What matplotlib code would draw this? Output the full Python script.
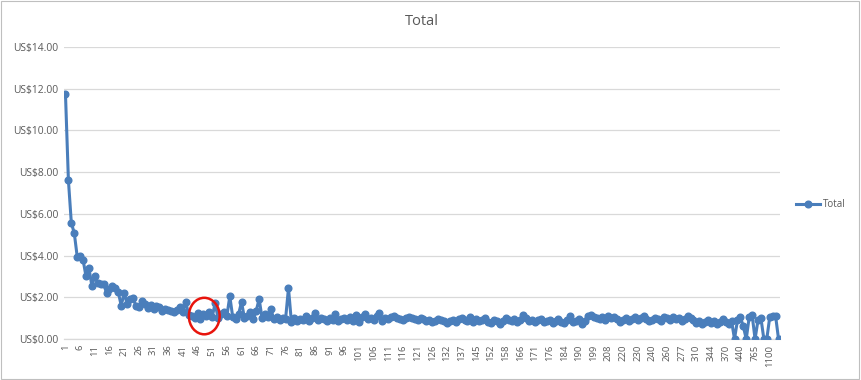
import matplotlib
matplotlib.use("Agg")
import matplotlib.pyplot as plt
from matplotlib.patches import Ellipse, Rectangle
from matplotlib.ticker import FuncFormatter, MultipleLocator

# ---- data ----
values = [
    11.75, 7.62, 5.56, 5.08, 3.95, 4.0, 3.8, 3.0, 3.4, 2.55,
    3.0, 2.7, 2.65, 2.65, 2.2, 2.4, 2.55, 2.45, 2.25, 1.6,
    2.2, 1.7, 1.9, 1.95, 1.6, 1.55, 1.8, 1.7, 1.5, 1.65,
    1.45, 1.6, 1.55, 1.35, 1.45, 1.4, 1.35, 1.3, 1.4, 1.55,
    1.3, 1.77, 1.15, 1.1, 1.0, 1.25, 0.95, 1.2, 1.1, 1.3,
    1.05, 1.72, 1.0, 1.2, 1.3, 1.1, 2.05, 1.05, 0.95, 1.2,
    1.77, 1.0, 1.1, 1.3, 0.95, 1.35, 1.92, 1.0, 1.2, 1.05,
    1.44, 0.95, 1.05, 0.9, 1.0, 0.95, 2.44, 0.8, 1.0, 0.85,
    0.95, 0.9, 1.1, 0.85, 1.0, 1.25, 0.9, 1.0, 0.95, 0.85,
    1.0, 0.9, 1.2, 0.85, 0.95, 1.0, 0.9, 1.05, 0.85, 1.15,
    0.8, 1.05, 1.2, 0.95, 1.0, 0.9, 1.1, 1.25, 0.85, 1.0,
    0.95, 1.05, 1.1, 1.0, 0.95, 0.9, 1.0, 1.05, 1.0, 0.95,
    0.9, 1.0, 0.95, 0.85, 0.9, 0.8, 0.85, 0.95, 0.9, 0.85,
    0.75, 0.85, 0.9, 0.8, 0.95, 1.0, 0.9, 0.85, 1.05, 0.8,
    0.95, 0.85, 0.9, 1.0, 0.8, 0.75, 0.9, 0.85, 0.7, 0.85,
    1.0, 0.9, 0.85, 0.95, 0.8, 0.9, 1.15, 1.0, 0.85, 0.9,
    0.8, 0.9, 0.95, 0.8, 0.85, 0.9, 0.75, 0.85, 0.95, 0.8,
    0.75, 0.9, 1.1, 0.8, 0.85, 0.95, 0.7, 0.85, 1.1, 1.15,
    1.05, 1.0, 0.95, 1.05, 0.9, 1.1, 1.0, 1.05, 0.95, 0.8,
    0.9, 1.0, 0.85, 0.95, 1.05, 0.9, 1.0, 1.1, 0.95, 0.85,
    0.9, 1.0, 0.95, 0.85, 1.05, 1.0, 0.9, 1.05, 0.95, 1.0,
    0.85, 0.95, 1.1, 1.0, 0.9, 0.75, 0.85, 0.7, 0.8, 0.9,
    0.75, 0.85, 0.7, 0.8, 0.95, 0.8, 0.7, 0.85, 0.0, 0.9,
    1.05, 0.6, 0.0, 1.05, 1.15, 0.0, 0.9, 1.0, 0.0, 0.0,
    1.05, 1.1, 1.1, 0.0,
]
tick_labels = [
    "1", "6", "11", "16", "21", "26", "31", "36", "41", "46", "51", "56", "61",
    "66", "71", "76", "81", "86", "91", "96", "101", "106", "111", "116", "121",
    "126", "132", "137", "145", "152", "158", "166", "171", "176", "184", "190",
    "199", "208", "220", "230", "240", "260", "277", "310", "344", "370", "440",
    "765", "1100",
]
series_name = "Total"
tick_step = 5

# ---- figure ----
color = "#4a7ebb"
text_color = "#595959"
plt.rcParams["font.family"] = ["Open Sans", "DejaVu Sans"]

fig = plt.figure(figsize=(8.61, 3.80), dpi=100)
ax = fig.add_axes([64 / 861, 1 - 339 / 380, (780 - 64) / 861, (339 - 47) / 380])

x = list(range(len(values)))
ax.plot(x, values, color=color, lw=2.2, marker="o", markersize=4.8,
        markerfacecolor=color, markeredgecolor=color, label=series_name,
        solid_joinstyle="round", zorder=3)

ax.set_ylim(0, 14)
ax.set_xlim(-0.5, len(values) - 0.5)
ax.yaxis.set_major_locator(MultipleLocator(2))
ax.yaxis.set_major_formatter(FuncFormatter(lambda v, p: f"US${v:,.2f}"))
ax.grid(axis="y", color="#d9d9d9", lw=0.9, zorder=0)
ax.set_axisbelow(True)

tick_pos = [i * tick_step for i in range(len(tick_labels))]
ax.set_xticks(tick_pos)
ax.set_xticklabels(tick_labels, rotation=90, fontsize=6.8, color=text_color)
for lab in ax.get_yticklabels():
    lab.set_fontsize(7.4)
    lab.set_color(text_color)
ax.tick_params(axis="both", length=0, pad=4)

for s in ["top", "right", "left"]:
    ax.spines[s].set_visible(False)
ax.spines["bottom"].set_color("#d9d9d9")
ax.spines["bottom"].set_linewidth(0.9)

ax.set_title("Total", fontsize=10.5, color=text_color, pad=16)

leg = ax.legend(loc="center left", bbox_to_anchor=(1.01, 0.46), frameon=False,
                fontsize=7, handlelength=2.5, handletextpad=0.3)
for t in leg.get_texts():
    t.set_color(text_color)

# red annotation circle
ax.add_patch(Ellipse((47.3, 1.1), width=10.5, height=1.75, fill=False,
                     edgecolor="#e8140c", lw=1.8, zorder=4, clip_on=False))

# outer border
fig.patches.append(Rectangle((0.001, 0.002), 0.997, 0.995, transform=fig.transFigure,
                             fill=False, edgecolor="#bfbfbf", lw=0.8))

fig.savefig("out.png", dpi=100)
